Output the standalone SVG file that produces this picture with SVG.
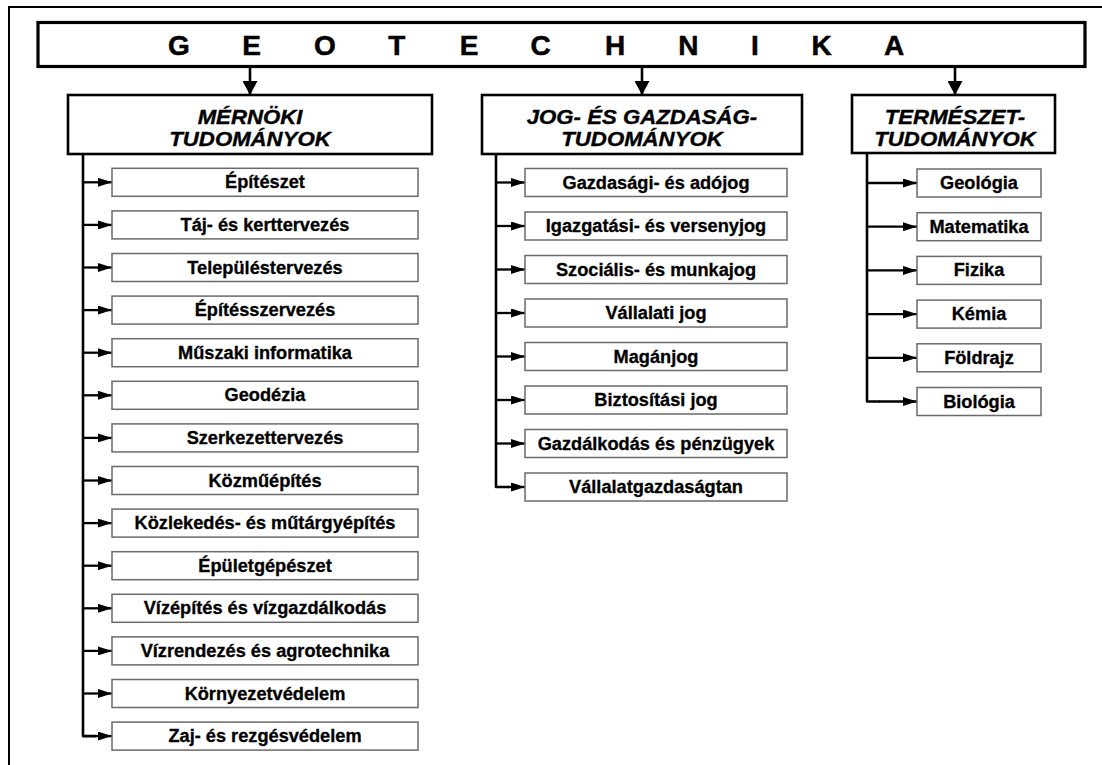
<svg xmlns="http://www.w3.org/2000/svg" width="1102" height="765" viewBox="0 0 1102 765">
<style>
.frame{fill:none;stroke:#000;stroke-width:2}
.title{fill:#fff;stroke:#000;stroke-width:3.2}
.head{fill:#fff;stroke:#000;stroke-width:2.6}
.item{fill:#fff;stroke:#6a6a6a;stroke-width:1.5}
.tt{font-family:"Liberation Sans",Arial,sans-serif;font-weight:bold;font-size:28px;fill:#000;stroke:#000;stroke-width:0.5}
.ht{font-family:"Liberation Sans",Arial,sans-serif;font-weight:bold;font-style:italic;font-size:20px;fill:#000;stroke:#000;stroke-width:0.35;text-anchor:middle}
.it{font-family:"Liberation Sans",Arial,sans-serif;font-weight:bold;font-size:17.5px;fill:#000;stroke:#000;stroke-width:0.3;text-anchor:middle}
.big{fill:none;stroke:#000;stroke-width:2.6;marker-end:url(#ab)}
.sm{fill:none;stroke:#000;stroke-width:2.3;marker-end:url(#as)}
.trunk{fill:none;stroke:#000;stroke-width:2.6;stroke-linejoin:round}
</style>
<defs>
<marker id="ab" markerUnits="userSpaceOnUse" markerWidth="14" markerHeight="15" refX="14" refY="7.5" orient="auto"><path d="M0,0 L14,7.5 L0,15 z" fill="#000"/></marker>
<marker id="as" markerUnits="userSpaceOnUse" markerWidth="14" markerHeight="9" refX="14" refY="4.5" orient="auto"><path d="M0,0 L14,4.5 L0,9 z" fill="#000"/></marker>
</defs>
<rect width="1102" height="765" fill="#fff"/>
<path class="frame" d="M9,765 V7 H1102"/>

<g id="geotechnika">
<rect class="title" x="38" y="22.5" width="1047" height="44"/>
<text class="tt" text-anchor="middle" x="179 251.7 325 396.7 469 540.7 615 688.3 755 821.7 894" y="55">GEOTECHNIKA</text>
</g>

<g id="connectors">
<line class="big" x1="250" y1="67" x2="250" y2="95"/>
<line class="big" x1="642" y1="67" x2="642" y2="95"/>
<line class="big" x1="955" y1="67" x2="955" y2="95"/>
<path class="trunk" d="M83,154 V736.1 H96"/>
<path class="trunk" d="M496,154 V487 H509"/>
<path class="trunk" d="M867,153 V401.5 H880"/>
<line class="sm" x1="83" y1="182.3" x2="112" y2="182.3"/>
<line class="sm" x1="83" y1="224.9" x2="112" y2="224.9"/>
<line class="sm" x1="83" y1="267.5" x2="112" y2="267.5"/>
<line class="sm" x1="83" y1="310.1" x2="112" y2="310.1"/>
<line class="sm" x1="83" y1="352.7" x2="112" y2="352.7"/>
<line class="sm" x1="83" y1="395.3" x2="112" y2="395.3"/>
<line class="sm" x1="83" y1="437.9" x2="112" y2="437.9"/>
<line class="sm" x1="83" y1="480.5" x2="112" y2="480.5"/>
<line class="sm" x1="83" y1="523.1" x2="112" y2="523.1"/>
<line class="sm" x1="83" y1="565.7" x2="112" y2="565.7"/>
<line class="sm" x1="83" y1="608.3" x2="112" y2="608.3"/>
<line class="sm" x1="83" y1="650.9" x2="112" y2="650.9"/>
<line class="sm" x1="83" y1="693.5" x2="112" y2="693.5"/>
<line class="sm" x1="95" y1="736.1" x2="112" y2="736.1"/>
<line class="sm" x1="496" y1="182.5" x2="525" y2="182.5"/>
<line class="sm" x1="496" y1="226" x2="525" y2="226"/>
<line class="sm" x1="496" y1="269.5" x2="525" y2="269.5"/>
<line class="sm" x1="496" y1="313" x2="525" y2="313"/>
<line class="sm" x1="496" y1="356.5" x2="525" y2="356.5"/>
<line class="sm" x1="496" y1="400" x2="525" y2="400"/>
<line class="sm" x1="496" y1="443.5" x2="525" y2="443.5"/>
<line class="sm" x1="508" y1="487" x2="525" y2="487"/>
<line class="sm" x1="867" y1="183" x2="917" y2="183"/>
<line class="sm" x1="867" y1="226.7" x2="917" y2="226.7"/>
<line class="sm" x1="867" y1="270.4" x2="917" y2="270.4"/>
<line class="sm" x1="867" y1="314.1" x2="917" y2="314.1"/>
<line class="sm" x1="867" y1="357.8" x2="917" y2="357.8"/>
<line class="sm" x1="879" y1="401.5" x2="917" y2="401.5"/>
</g>

<g id="mernoki">
<rect class="head" x="68" y="95" width="364" height="59"/>
<text class="ht" transform="translate(250,123.5) scale(1.11,1)">MÉRNÖKI</text>
<text class="ht" transform="translate(250,145.5) scale(1.11,1)">TUDOMÁNYOK</text>
</g>
<g id="jog">
<rect class="head" x="482" y="95" width="320" height="59"/>
<text class="ht" transform="translate(642,123.5) scale(1.11,1)">JOG- ÉS GAZDASÁG-</text>
<text class="ht" transform="translate(642,145.5) scale(1.11,1)">TUDOMÁNYOK</text>
</g>
<g id="termeszet">
<rect class="head" x="852" y="95" width="203" height="58"/>
<text class="ht" transform="translate(955,123.5) scale(1.11,1)">TERMÉSZET-</text>
<text class="ht" transform="translate(955,145.5) scale(1.11,1)">TUDOMÁNYOK</text>
</g>

<g id="m1"><rect class="item" x="112" y="168.3" width="306" height="28"/><text class="it" transform="translate(265,188.3) scale(1.04,1)">Építészet</text></g>
<g id="m2"><rect class="item" x="112" y="210.9" width="306" height="28"/><text class="it" transform="translate(265,230.9) scale(1.04,1)">Táj- és kerttervezés</text></g>
<g id="m3"><rect class="item" x="112" y="253.5" width="306" height="28"/><text class="it" transform="translate(265,273.5) scale(1.04,1)">Településtervezés</text></g>
<g id="m4"><rect class="item" x="112" y="296.1" width="306" height="28"/><text class="it" transform="translate(265,316.1) scale(1.04,1)">Építésszervezés</text></g>
<g id="m5"><rect class="item" x="112" y="338.7" width="306" height="28"/><text class="it" transform="translate(265,358.7) scale(1.04,1)">Műszaki informatika</text></g>
<g id="m6"><rect class="item" x="112" y="381.3" width="306" height="28"/><text class="it" transform="translate(265,401.3) scale(1.04,1)">Geodézia</text></g>
<g id="m7"><rect class="item" x="112" y="423.9" width="306" height="28"/><text class="it" transform="translate(265,443.9) scale(1.04,1)">Szerkezettervezés</text></g>
<g id="m8"><rect class="item" x="112" y="466.5" width="306" height="28"/><text class="it" transform="translate(265,486.5) scale(1.04,1)">Közműépítés</text></g>
<g id="m9"><rect class="item" x="112" y="509.1" width="306" height="28"/><text class="it" transform="translate(265,529.1) scale(1.04,1)">Közlekedés- és műtárgyépítés</text></g>
<g id="m10"><rect class="item" x="112" y="551.7" width="306" height="28"/><text class="it" transform="translate(265,571.7) scale(1.04,1)">Épületgépészet</text></g>
<g id="m11"><rect class="item" x="112" y="594.3" width="306" height="28"/><text class="it" transform="translate(265,614.3) scale(1.04,1)">Vízépítés és vízgazdálkodás</text></g>
<g id="m12"><rect class="item" x="112" y="636.9" width="306" height="28"/><text class="it" transform="translate(265,656.9) scale(1.04,1)">Vízrendezés és agrotechnika</text></g>
<g id="m13"><rect class="item" x="112" y="679.5" width="306" height="28"/><text class="it" transform="translate(265,699.5) scale(1.04,1)">Környezetvédelem</text></g>
<g id="m14"><rect class="item" x="112" y="722.1" width="306" height="28"/><text class="it" transform="translate(265,742.1) scale(1.04,1)">Zaj- és rezgésvédelem</text></g>

<g id="j1"><rect class="item" x="525" y="168.5" width="262" height="28"/><text class="it" transform="translate(656,188.5) scale(1.04,1)">Gazdasági- és adójog</text></g>
<g id="j2"><rect class="item" x="525" y="212" width="262" height="28"/><text class="it" transform="translate(656,232) scale(1.04,1)">Igazgatási- és versenyjog</text></g>
<g id="j3"><rect class="item" x="525" y="255.5" width="262" height="28"/><text class="it" transform="translate(656,275.5) scale(1.04,1)">Szociális- és munkajog</text></g>
<g id="j4"><rect class="item" x="525" y="299" width="262" height="28"/><text class="it" transform="translate(656,319) scale(1.04,1)">Vállalati jog</text></g>
<g id="j5"><rect class="item" x="525" y="342.5" width="262" height="28"/><text class="it" transform="translate(656,362.5) scale(1.04,1)">Magánjog</text></g>
<g id="j6"><rect class="item" x="525" y="386" width="262" height="28"/><text class="it" transform="translate(656,406) scale(1.04,1)">Biztosítási jog</text></g>
<g id="j7"><rect class="item" x="525" y="429.5" width="262" height="28"/><text class="it" transform="translate(656,449.5) scale(1.04,1)">Gazdálkodás és pénzügyek</text></g>
<g id="j8"><rect class="item" x="525" y="473" width="262" height="28"/><text class="it" transform="translate(656,493) scale(1.04,1)">Vállalatgazdaságtan</text></g>

<g id="t1"><rect class="item" x="917" y="169" width="124" height="28"/><text class="it" transform="translate(979,189) scale(1.04,1)">Geológia</text></g>
<g id="t2"><rect class="item" x="917" y="212.7" width="124" height="28"/><text class="it" transform="translate(979,232.7) scale(1.04,1)">Matematika</text></g>
<g id="t3"><rect class="item" x="917" y="256.4" width="124" height="28"/><text class="it" transform="translate(979,276.4) scale(1.04,1)">Fizika</text></g>
<g id="t4"><rect class="item" x="917" y="300.1" width="124" height="28"/><text class="it" transform="translate(979,320.1) scale(1.04,1)">Kémia</text></g>
<g id="t5"><rect class="item" x="917" y="343.8" width="124" height="28"/><text class="it" transform="translate(979,363.8) scale(1.04,1)">Földrajz</text></g>
<g id="t6"><rect class="item" x="917" y="387.5" width="124" height="28"/><text class="it" transform="translate(979,407.5) scale(1.04,1)">Biológia</text></g>
</svg>
